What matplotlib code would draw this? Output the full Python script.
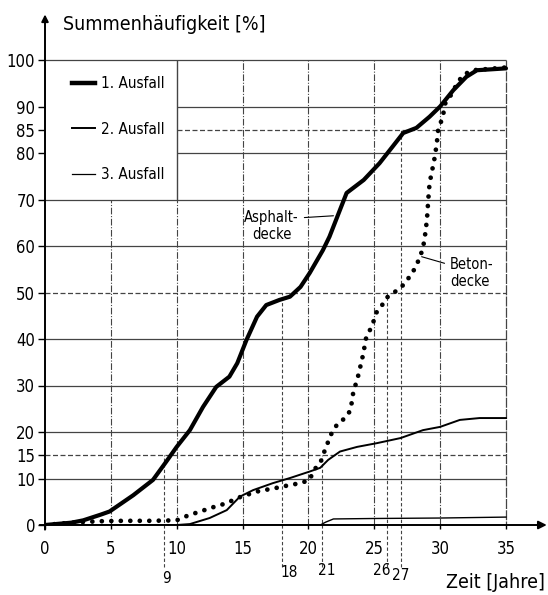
import numpy as np
import matplotlib.pyplot as plt
from matplotlib.lines import Line2D

plt.rcParams['font.family'] = ['DejaVu Sans']
plt.rcParams['font.stretch'] = 'condensed'

# 1. Ausfall - Asphaltdecke
asph_x = [0, 2, 2.9, 4.2, 4.9, 6.7, 8.2, 9.2, 10, 11, 12, 13, 14, 14.6, 15.3, 16.1, 16.8,
          17.8, 18.6, 19.4, 20.1, 21.1, 21.6, 22.9, 24.2, 25.4, 26.4, 27.2, 28.2, 29.2,
          30.0, 31.0, 32.0, 32.8, 35]
asph_y = [0, 0.5, 1, 2.2, 2.9, 6.4, 9.7, 13.6, 16.8, 20.4, 25.4, 29.7, 31.9, 34.8, 39.8,
          44.8, 47.3, 48.4, 49.1, 51.2, 54.2, 59.1, 62, 71.4, 74.2, 77.8, 81.4, 84.3, 85.4,
          87.8, 90, 93.5, 96.4, 97.8, 98.2]

# 1. Ausfall - Betondecke
bet_x = [0, 2, 4, 6, 8, 10, 10.3, 11, 11.8, 12.5, 13.8, 14.6, 16.1, 17.6, 18.6, 19.4,
         20.1, 20.4, 20.9, 21.3, 21.8, 22.25, 22.8, 23.2, 23.4, 23.8, 24.15, 24.4, 24.8,
         25.2, 25.6, 25.9, 26.6, 27.2, 27.9, 28.5, 28.8, 29.0, 29.1, 29.2, 29.4, 29.6,
         29.75, 29.85, 30.2, 30.4, 30.75, 31.3, 31.75, 32.5, 35]
bet_y = [0, 0.5, 0.8, 0.9, 0.9, 1.0, 1.4, 2.2, 2.9, 3.6, 4.7, 5.8, 7.2, 8.0, 8.6, 9.0,
         9.7, 11.8, 13.3, 16.5, 20, 21.9, 23, 24.7, 28.4, 32.3, 36.6, 40.5, 42.6,
         45.9, 47.3, 48.8, 50.2, 51.6, 54.2, 57.7, 61, 65.6, 69.9, 73.5, 76.3, 79.2,
         82.1, 84.9, 87.8, 90.7, 92.1, 95, 96.8, 97.8, 98.4]

# 2. Ausfall
aus2_x = [0, 5, 10, 11, 12.5, 13.8, 14.8, 15.8, 17.3, 18.6, 20.1, 20.9, 21.5, 22.4, 23.7,
          25.2, 27.0, 28.7, 30.0, 31.5, 33, 35]
aus2_y = [0, 0, 0, 0.2, 1.5, 3.2, 6.1, 7.5, 9.0, 10.1, 11.5, 12.3, 14.0, 15.8, 16.8,
          17.6, 18.7, 20.4, 21.1, 22.6, 23.0, 23.0]

# 3. Ausfall
aus3_x = [0, 20.9, 21.3, 21.9, 25, 30, 35]
aus3_y = [0, 0, 0.6, 1.3, 1.4, 1.5, 1.7]

y_ticks = [0, 10, 15, 20, 30, 40, 50, 60, 70, 80, 85, 90, 100]
x_ticks = [0, 5, 10, 15, 20, 25, 30, 35]
mark_x = [9, 18, 21, 26, 27]
mark_top = [15, 50, 15, 50, 85]
mark_lbl_x = [9.2, 18.5, 21.4, 25.6, 27.0]
mark_lbl_y = [-11.4, -10.3, -9.7, -9.7, -10.8]

fig = plt.figure(figsize=(5.48, 5.95), dpi=100)
ax = fig.add_axes([45 / 548, 70 / 595, 503 / 548, 515 / 595])
ax.set_xlim(0, 503 / 13.17)
ax.set_ylim(0, 515 / 4.65)
for s in ax.spines.values():
    s.set_visible(False)

gc = '#444444'
# horizontale Gitterlinien
for yv, x0 in [(10, 0), (20, 0), (30, 0), (40, 0), (60, 0), (70, 0), (80, 10), (90, 10), (100, 0)]:
    ax.hlines(yv, x0, 35, color=gc, lw=0.9)
for yv, x0 in [(15, 0), (50, 0), (85, 10)]:
    ax.hlines(yv, x0, 35, color=gc, lw=0.9, linestyles=(0, (4, 2)))
# vertikale Gitterlinien
ax.vlines(5, 0, 70, color=gc, lw=0.8, linestyles=(0, (6, 1.5, 1, 1.5)))
for xv in [15, 20, 25, 30]:
    ax.vlines(xv, 0, 100, color=gc, lw=0.8, linestyles=(0, (6, 1.5, 1, 1.5)))
ax.vlines(10, 0, 70, color=gc, lw=0.8, linestyles=(0, (6, 1.5, 1, 1.5)))
ax.vlines(10, 70, 100, color=gc, lw=1.0)
ax.vlines(35, -1.2, 100, color=gc, lw=0.9, linestyles=(0, (8, 1)))

# Hilfslinien
for xv, top in zip(mark_x, mark_top):
    ax.vlines(xv, -9, top, color=gc, lw=0.8, linestyles=(0, (3, 2)), clip_on=False)
for xv, yv, t in zip(mark_lbl_x, mark_lbl_y, mark_x):
    ax.text(xv, yv, str(t), ha='center', va='center', fontsize=11, clip_on=False)

# Achsen mit Pfeilen
ax.annotate('', xy=(38.1, 0), xytext=(-0.4, 0),
            arrowprops=dict(arrowstyle='-|>', color='k', lw=1.4, mutation_scale=12,
                            shrinkA=0, shrinkB=0), annotation_clip=False)
ax.annotate('', xy=(0, 109.8), xytext=(0, -1),
            arrowprops=dict(arrowstyle='-|>', color='k', lw=1.4, mutation_scale=10,
                            shrinkA=0, shrinkB=0), annotation_clip=False)

# Kurven
ax.plot(aus3_x, aus3_y, color='k', lw=1.0)
ax.plot(aus2_x, aus2_y, color='k', lw=1.4)
ax.plot(bet_x, bet_y, color='k', lw=3.4, linestyle=(0, (0.01, 2.0)),
        dash_capstyle='round')
ax.plot(asph_x, asph_y, color='k', lw=3.0, solid_capstyle='round', solid_joinstyle='round')

ax.set_yticks(y_ticks)
ax.set_yticklabels([str(v) for v in y_ticks])
ax.set_xticks(x_ticks)
ax.set_xticklabels([str(v) for v in x_ticks])
ax.tick_params(axis='y', length=5, width=1, pad=2, labelsize=12)
ax.tick_params(axis='x', length=3, width=1, pad=8, labelsize=12)

# Beschriftungen
ax.annotate('Asphalt-\ndecke', xy=(21.9, 66.5), xytext=(17.2, 64.3), ha='center',
            va='center', fontsize=10.5,
            arrowprops=dict(arrowstyle='-', color='k', lw=0.8, relpos=(1, 0.75),
                            shrinkA=2, shrinkB=0))
ax.annotate('Beton-\ndecke', xy=(28.6, 57.7), xytext=(30.75, 54.2), ha='left',
            va='center', fontsize=10.5,
            arrowprops=dict(arrowstyle='-', color='k', lw=0.8, relpos=(0, 0.75),
                            shrinkA=2, shrinkB=0))

handles = [Line2D([], [], color='k', lw=3.2), Line2D([], [], color='k', lw=1.4),
           Line2D([], [], color='k', lw=0.9)]
ax.legend(handles, ['1. Ausfall', '2. Ausfall', '3. Ausfall'], loc='upper left',
          bbox_to_anchor=(1.0, 99.5), bbox_transform=ax.transData, frameon=False,
          fontsize=11, handlelength=1.5, handletextpad=0.4, labelspacing=2.0)

fig.text(63 / 548, 1 - 25 / 595, 'Summenhäufigkeit [%]', ha='left', va='center',
         fontsize=14)
fig.text(545 / 548, 1 - 583 / 595, 'Zeit [Jahre]', ha='right', va='center', fontsize=14)

fig.savefig('out.png', dpi=100, facecolor='white')
